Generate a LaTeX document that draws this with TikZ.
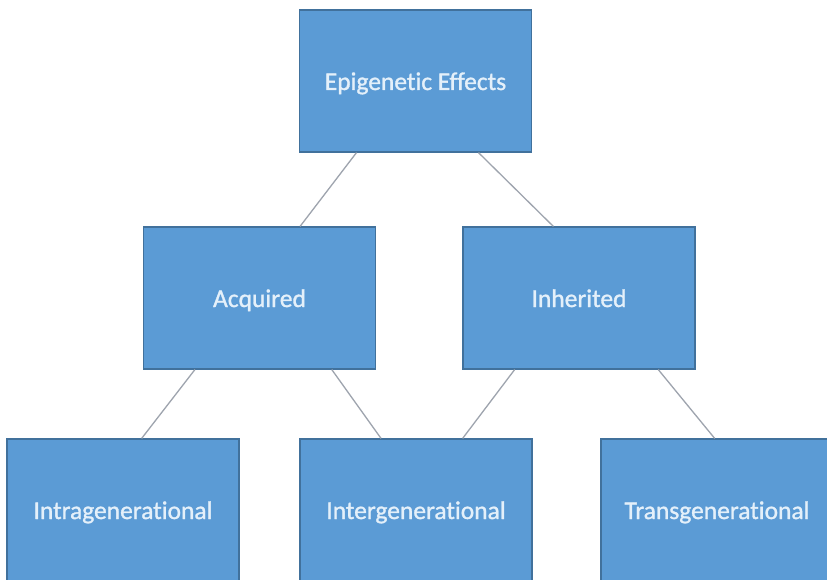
\documentclass[tikz,border=0pt]{standalone}
\usepackage{fontspec}
\setmainfont[Ligatures=NoCommon, FakeBold=1.2]{Carlito}
\usetikzlibrary{calc}
\definecolor{boxfill}{HTML}{5B9BD5}
\definecolor{boxline}{HTML}{41719C}
\definecolor{boxtext}{RGB}{228,240,250}
\definecolor{linkcol}{RGB}{158,164,174}
\tikzset{
  box/.style={draw=boxline, line width=1.2pt, fill=boxfill, text=boxtext,
    minimum width=232pt, minimum height=142pt, inner sep=0pt,
    text height=18pt, text depth=0pt,
    font=\fontsize{25.5pt}{30pt}\selectfont},
  link/.style={draw=linkcol, line width=1.3pt}
}
\begin{document}
\begin{tikzpicture}[x=1pt,y=-1pt]
\useasboundingbox (0,0) rectangle (827,580);
\clip (0,0) rectangle (827,580);
\fill[white] (0,0) rectangle (827,580);
% tree of boxes
\node[box] (top)   at (415.5,81) {Epigenetic Effects};
\node[box] (acq)   at (259.5,298) {Acquired};
\node[box] (inh)   at (579,298) {Inherited};
\node[box] (intra) at (123,510) {Intragenerational};
\node[box] (inter) at (416,510) {Intergenerational};
\node[box] (trans) at (717,510) {Transgenerational};
% connectors between boxes
\draw[link] ($(top.south west)!0.247!(top.south east)$) -- ($(acq.north west)!0.674!(acq.north east)$);
\draw[link] ($(top.south west)!0.77!(top.south east)$) -- ($(inh.north west)!0.39!(inh.north east)$);
\draw[link] ($(acq.south west)!0.223!(acq.south east)$) -- ($(intra.north west)!0.58!(intra.north east)$);
\draw[link] ($(acq.south west)!0.81!(acq.south east)$) -- ($(inter.north west)!0.35!(inter.north east)$);
\draw[link] ($(inh.south west)!0.224!(inh.south east)$) -- ($(inter.north west)!0.70!(inter.north east)$);
\draw[link] ($(inh.south west)!0.84!(inh.south east)$) -- ($(trans.north west)!0.49!(trans.north east)$);
\end{tikzpicture}
\end{document}
